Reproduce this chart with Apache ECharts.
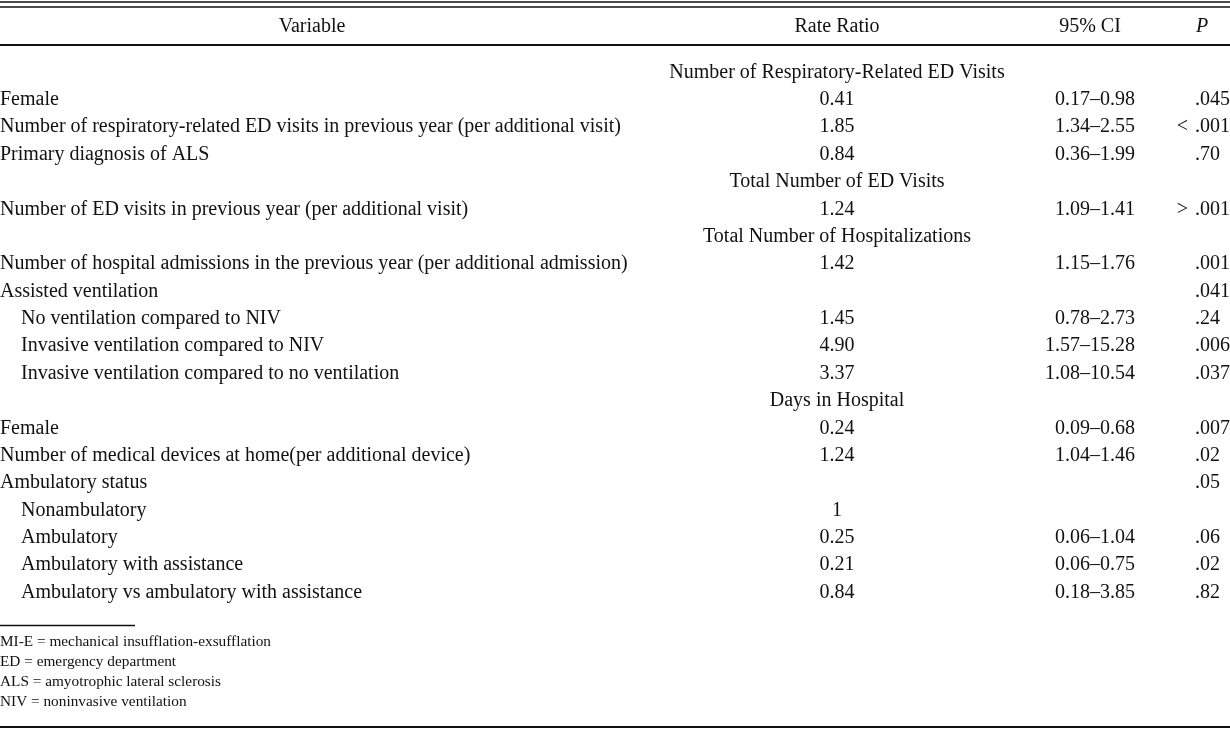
<!DOCTYPE html>
<html>
<head>
<meta charset="utf-8">
<script src="https://cdn.jsdelivr.net/npm/echarts@6/dist/echarts.min.js"></script>
<style>html,body{margin:0;padding:0;background:#fff}#chart{width:1230px;height:730px}</style>
</head>
<body>
<div id="chart"></div>
<script>
var headers = ['Variable', 'Rate Ratio', '95% CI', 'P'];
var variables = ['', 'Female', 'Number of respiratory-related ED visits in previous year (per additional visit)', 'Primary diagnosis of ALS', '', 'Number of ED visits in previous year (per additional visit)', '', 'Number of hospital admissions in the previous year (per additional admission)', 'Assisted ventilation', 'No ventilation compared to NIV', 'Invasive ventilation compared to NIV', 'Invasive ventilation compared to no ventilation', '', 'Female', 'Number of medical devices at home(per additional device)', 'Ambulatory status', 'Nonambulatory', 'Ambulatory', 'Ambulatory with assistance', 'Ambulatory vs ambulatory with assistance'];
var indentLevel = [0,0,0,0,0,0,0,0,0,1,1,1,0,0,0,0,1,1,1,1];
var sections = ['Number of Respiratory-Related ED Visits','','','','Total Number of ED Visits','','Total Number of Hospitalizations','','','','','','Days in Hospital','','','','','','',''];
var rateRatios = ['', '0.41','1.85','0.84','', '1.24','', '1.42','', '1.45','4.90','3.37','', '0.24','1.24','','1','0.25','0.21','0.84'];
var ci = ['', '0.17–0.98','1.34–2.55','0.36–1.99','', '1.09–1.41','', '1.15–1.76','', '0.78–2.73','1.57–15.28','1.08–10.54','', '0.09–0.68','1.04–1.46','','','0.06–1.04','0.06–0.75','0.18–3.85'];
var pValues = ['', '.045','< .001','.70','', '> .001','', '.001','.041','.24','.006','.037','', '.007','.02','.05','','.06','.02','.82'];
var footnotes = ['MI-E = mechanical insufflation-exsufflation', 'ED = emergency department', 'ALS = amyotrophic lateral sclerosis', 'NIV = noninvasive ventilation'];

var FONT = '"Liberation Serif", "Times New Roman", serif';
var FS = 20;
var INK = '#111';
var colX = {variable: 0, indent: 21, rate: 837, ci: 1135, p: 1195, pPrefix: 1188};

var rows = variables.map(function (_, i) { return String(i); });

function textSeries(name, values, xFn, align, extra) {
  var data = [];
  values.forEach(function (v, i) {
    if (v !== '') data.push([xFn(i), i, v]);
  });
  return {
    type: 'custom', name: name, data: data, silent: true,
    renderItem: function (params, api) {
      var pt = api.coord([api.value(0), api.value(1)]);
      var d = data[params.dataIndex];
      return {
        type: 'text', x: pt[0], y: pt[1],
        style: Object.assign({
          text: d[2], textAlign: align, textVerticalAlign: 'middle',
          fontSize: FS, fontFamily: FONT, fill: INK
        }, extra || {})
      };
    }
  };
}

var pMain = pValues.map(function (p) { return p.replace(/^[<>]\s*/, ''); });
var pPre = pValues.map(function (p) { var m = p.match(/^[<>]/); return m ? m[0] : ''; });

var chart = echarts.init(document.getElementById('chart'), null, {renderer: 'canvas'});
var graphics = [
  {type: 'line', shape: {x1: 0, y1: 2, x2: 1230, y2: 2}, style: {stroke: INK, lineWidth: 1.5}},
  {type: 'line', shape: {x1: 0, y1: 7, x2: 1230, y2: 7}, style: {stroke: INK, lineWidth: 1.5}},
  {type: 'line', shape: {x1: 0, y1: 45, x2: 1230, y2: 45}, style: {stroke: INK, lineWidth: 2}},
  {type: 'line', shape: {x1: 0, y1: 625.5, x2: 135, y2: 625.5}, style: {stroke: INK, lineWidth: 1.5}},
  {type: 'line', shape: {x1: 0, y1: 727, x2: 1230, y2: 727}, style: {stroke: INK, lineWidth: 2}}
];
var headerX = [312, colX.rate, 1090, 1202];
headers.forEach(function (h, i) {
  graphics.push({type: 'text', x: headerX[i], y: 27, style: {text: h, textAlign: 'center', textVerticalAlign: 'middle', fontSize: FS, fontFamily: FONT, fill: INK, fontStyle: i === 3 ? 'italic' : 'normal'}});
});
footnotes.forEach(function (f, i) {
  graphics.push({type: 'text', x: 0, y: 641.5 + i * 20, style: {text: f, textAlign: 'left', textVerticalAlign: 'middle', fontSize: 15.3, fontFamily: FONT, fill: INK}});
});

chart.setOption({
  animation: false,
  grid: {left: 0, right: 0, top: 58.8, bottom: 123.8},
  xAxis: {type: 'value', min: 0, max: 1230, show: false},
  yAxis: {type: 'category', data: rows, inverse: true, show: false},
  series: [
    textSeries('variable', variables, function (i) { return indentLevel[i] ? colX.indent : colX.variable; }, 'left'),
    textSeries('section', sections, function () { return colX.rate; }, 'center'),
    textSeries('rate', rateRatios, function () { return colX.rate; }, 'center'),
    textSeries('ci', ci, function () { return colX.ci; }, 'right'),
    textSeries('p', pMain, function () { return colX.p; }, 'left'),
    textSeries('pPrefix', pPre, function () { return colX.pPrefix; }, 'right')
  ],
  graphic: graphics
});
</script>
</body>
</html>
